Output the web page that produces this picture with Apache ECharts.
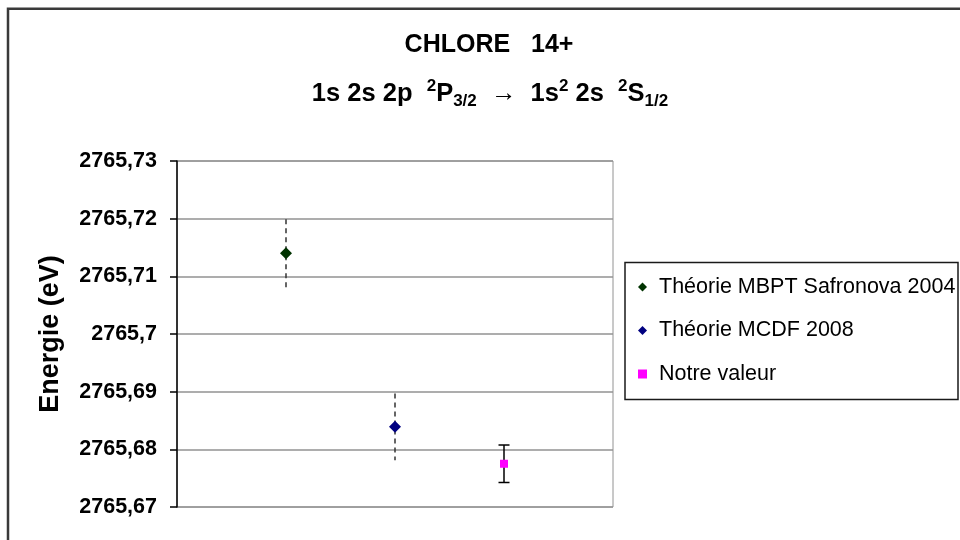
<!DOCTYPE html>
<html>
<head>
<meta charset="utf-8">
<script src="https://cdn.jsdelivr.net/npm/echarts@6/dist/echarts.min.js"></script>
<style>
  html, body { margin: 0; padding: 0; background: #ffffff; }
  #chart { width: 960px; height: 540px; }
</style>
</head>
<body>
<div id="chart"></div>
<script>
// Measured transition energies (eV) with their uncertainties
const seriesNames = ['Théorie MBPT Safronova 2004', 'Théorie MCDF 2008', 'Notre valeur'];
const positions = [1, 2, 3];
const energies = [2765.714, 2765.6839, 2765.6775];
const uncertainties = [0.0059, 0.0058, 0.00325];

// Energy axis range and tick step
const yMin = 2765.67;
const yMax = 2765.73;
const yStep = 0.01;

const FONT = '"Liberation Sans", Arial, sans-serif';
const markerColors = ['#003300', '#000080', '#ff00ff'];
const markerShapes = ['diamond', 'diamond', 'rect'];
const markerSizes = [12, 12, 8];

function formatTick(v) {
  return String(Math.round(v * 100) / 100).replace('.', ',');
}

// Vertical error bar: dashed for the theoretical values, capped for the measurement
function makeErrorBar(dashed) {
  return function (params, api) {
    const x = api.value(0);
    const top = api.coord([x, api.value(2)]);
    const bot = api.coord([x, api.value(1)]);
    const children = [{
      type: 'line',
      shape: { x1: top[0], y1: top[1], x2: bot[0], y2: bot[1] },
      style: dashed
        ? { stroke: '#333333', lineWidth: 1.5, lineDash: [5, 4] }
        : { stroke: '#000000', lineWidth: 1.5 }
    }];
    if (!dashed) {
      [top, bot].forEach(function (p) {
        children.push({
          type: 'line',
          shape: { x1: p[0] - 5.5, y1: p[1], x2: p[0] + 5.5, y2: p[1] },
          style: { stroke: '#000000', lineWidth: 1.5 }
        });
      });
    }
    return { type: 'group', children: children };
  };
}

const series = [];
seriesNames.forEach(function (name, i) {
  series.push({
    type: 'custom',
    name: name + ' (incertitude)',
    renderItem: makeErrorBar(i < 2),
    data: [[positions[i], energies[i] - uncertainties[i], energies[i] + uncertainties[i]]],
    z: 2,
    silent: true
  });
  series.push({
    type: 'scatter',
    name: name,
    symbol: markerShapes[i],
    symbolSize: markerSizes[i],
    itemStyle: { color: markerColors[i], opacity: 1 },
    data: [[positions[i], energies[i]]],
    z: 3
  });
});

const chart = echarts.init(document.getElementById('chart'), null, { renderer: 'canvas' });
chart.setOption({
  animation: false,
  backgroundColor: '#ffffff',
  grid: {
    left: 177, top: 161, right: 347, bottom: 33,
    show: true, borderColor: '#929292', borderWidth: 1, backgroundColor: 'transparent'
  },
  xAxis: {
    type: 'value', min: 0, max: 4,
    axisLine: { show: false }, axisTick: { show: false },
    axisLabel: { show: false }, splitLine: { show: false }
  },
  yAxis: {
    type: 'value', min: yMin, max: yMax, interval: yStep,
    name: 'Energie (eV)',
    nameLocation: 'middle',
    nameRotate: 90,
    nameGap: 113,
    nameTextStyle: { fontFamily: FONT, fontWeight: 'bold', fontSize: 27, color: '#000000' },
    axisLine: { show: true, lineStyle: { color: '#000000', width: 1.5 } },
    axisTick: { show: true, inside: false, length: 7, lineStyle: { color: '#000000', width: 1.5 } },
    axisLabel: {
      formatter: formatTick, margin: 20,
      fontFamily: FONT, fontWeight: 'bold', fontSize: 21.5, color: '#000000'
    },
    splitLine: { show: true, lineStyle: { color: '#929292', width: 1.5 } }
  },
  legend: {
    data: seriesNames,
    orient: 'vertical',
    left: 638, top: 276,
    itemWidth: 9, itemHeight: 9, itemGap: 21.5,
    padding: 0,
    selectedMode: false,
    textStyle: { fontFamily: FONT, fontSize: 21.5, color: '#000000', padding: [0, 0, 0, 7] }
  },
  graphic: [
    {
      type: 'rect', silent: true, z: 0,
      shape: { x: 8, y: 8.7, width: 1000, height: 1000 },
      style: { fill: 'none', stroke: '#3a3a3a', lineWidth: 2.5 }
    },
    {
      type: 'rect', silent: true, z: 0,
      shape: { x: 625, y: 262.5, width: 333, height: 137 },
      style: { fill: 'none', stroke: '#1a1a1a', lineWidth: 1.5 }
    },
    {
      type: 'text', silent: true,
      style: {
        x: 489, y: 45, align: 'center', verticalAlign: 'middle',
        text: 'CHLORE   14+',
        font: 'bold 25px ' + FONT, fill: '#000000'
      }
    },
    {
      type: 'text', silent: true,
      style: {
        x: 490, y: 78, align: 'center', verticalAlign: 'top',
        text: '{m|1s 2s 2p  }{sup|2}{m|P}{sub|3/2}{m|  →  1s}{sup|2}{m| 2s  }{sup|2}{m|S}{sub|1/2}',
        rich: {
          m: { font: 'bold 25.5px ' + FONT, fill: '#000000', lineHeight: 32 },
          sup: { font: 'bold 17px ' + FONT, fill: '#000000', lineHeight: 19, verticalAlign: 'top' },
          sub: { font: 'bold 17px ' + FONT, fill: '#000000', lineHeight: 13, verticalAlign: 'bottom' }
        }
      }
    }
  ],
  series: series
});
</script>
</body>
</html>
